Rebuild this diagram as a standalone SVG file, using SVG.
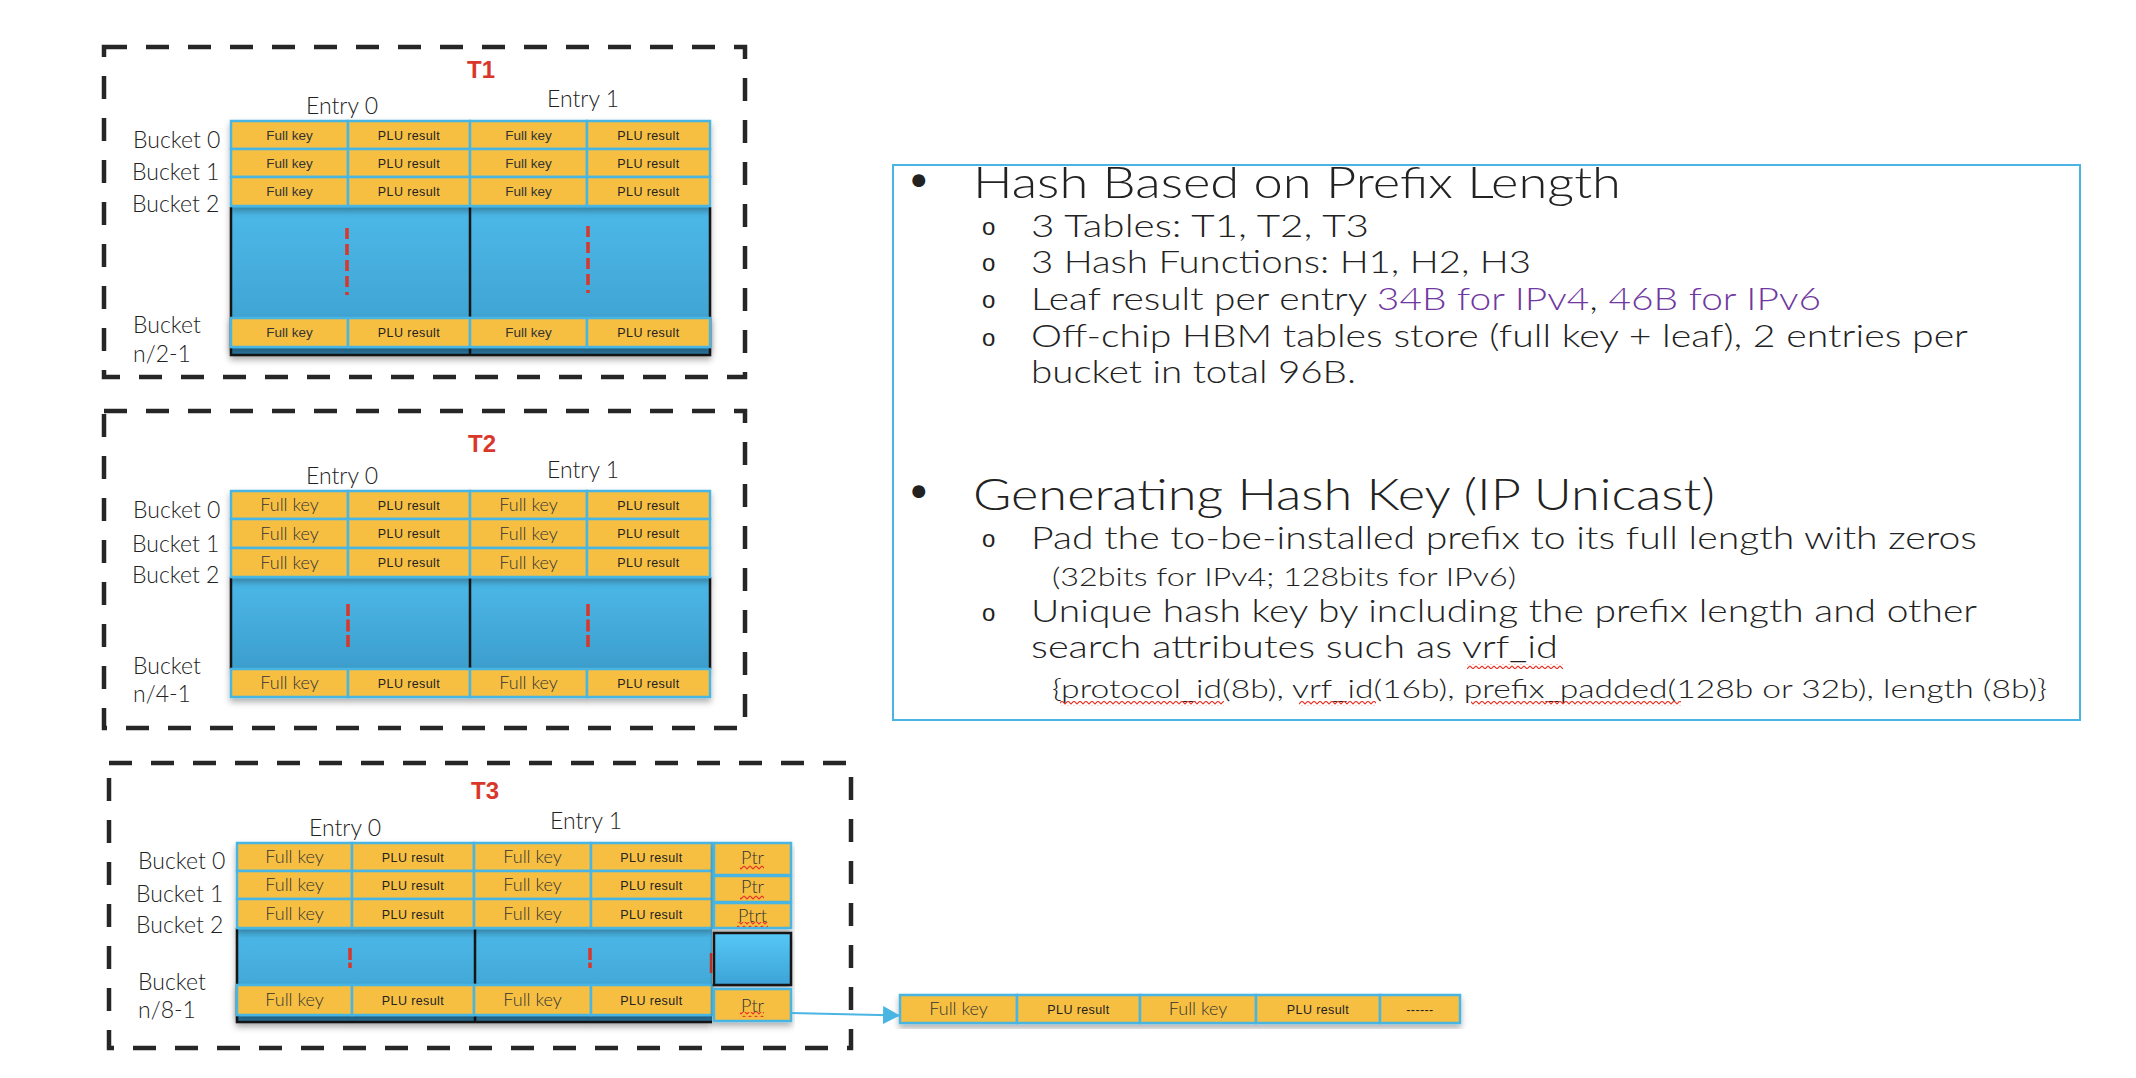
<svg xmlns="http://www.w3.org/2000/svg" width="2136" height="1078" viewBox="0 0 2136 1078">
<defs>
<style>
.frame{fill:none;stroke:#262626;stroke-width:4.5;stroke-dasharray:23 19}
.tl{font-family:"Liberation Sans",Arial,sans-serif;font-weight:bold;font-size:24px;fill:#d9372b;text-anchor:middle}
.en{font-family:Lato,"Liberation Sans",sans-serif;font-weight:300;font-size:23px;fill:#222;text-anchor:middle}
.bk{font-family:Lato,"Liberation Sans",sans-serif;font-weight:300;font-size:23px;fill:#222}
.c{fill:#f6bf43;stroke:#4ab5e3;stroke-width:2.5}
.fk{font-family:"Liberation Sans",Arial,sans-serif;font-size:13.5px;fill:#333;text-anchor:middle}
.fk2{font-family:Lato,"Liberation Sans",sans-serif;font-weight:300;font-size:18px;fill:#333;text-anchor:middle}
.pl{font-family:"Liberation Sans",Arial,sans-serif;font-size:12.5px;fill:#222;text-anchor:middle;letter-spacing:0.4px}
.blk{stroke:#151515;stroke-width:2.5;fill:none}
.rd{stroke:#d9372b;stroke-width:3.5;fill:none}
.h1{font-family:Lato,"Liberation Sans",sans-serif;font-weight:300;font-size:44px;fill:#222}
.h2{font-family:Lato,"Liberation Sans",sans-serif;font-weight:300;font-size:32px;fill:#222}
.h3{font-family:Lato,"Liberation Sans",sans-serif;font-weight:300;font-size:25px;fill:#222}
.ob{font-family:"Liberation Sans",Arial,sans-serif;font-size:24px;fill:#222}
.pu{fill:#7038a0}
.wv{fill:url(#wave)}
.cn{stroke:#4ab5e3;stroke-width:2;fill:none}
</style>
<linearGradient id="blue" x1="0" y1="0" x2="0" y2="1">
<stop offset="0" stop-color="#4cb9e9"/>
<stop offset="1" stop-color="#3c9ecd"/>
</linearGradient>
<linearGradient id="blue2" x1="0" y1="0" x2="0" y2="1">
<stop offset="0" stop-color="#55c8f7"/>
<stop offset="1" stop-color="#3da3d6"/>
</linearGradient>
<filter id="sh" x="-5%" y="-10%" width="110%" height="130%">
<feDropShadow dx="0" dy="4" stdDeviation="3" flood-color="#000" flood-opacity="0.3"/>
</filter>
<pattern id="wave" width="6" height="5" patternUnits="userSpaceOnUse">
<path d="M0 1 L3 4 L6 1" fill="none" stroke="#e8372b" stroke-width="1.2"/>
</pattern>
<marker id="arr2" viewBox="0 0 18 18" refX="17" refY="9" markerWidth="18" markerHeight="18" markerUnits="userSpaceOnUse" orient="auto">
<path d="M0 0 L17 9 L0 18 z" fill="#4ab5e3"/>
</marker>
</defs>
<rect width="2136" height="1078" fill="#fff"/>

<!-- T1 -->
<g id="table-t1">
<rect class="frame" x="104" y="47" width="641" height="330"/>
<text class="tl" x="481" y="78">T1</text>
<text class="en" x="342" y="114">Entry 0</text>
<text class="en" x="583" y="107">Entry 1</text>
<text class="bk" x="133" y="148">Bucket 0</text>
<text class="bk" x="132" y="180">Bucket 1</text>
<text class="bk" x="132" y="212">Bucket 2</text>
<text class="bk" x="133" y="333">Bucket</text>
<text class="bk" x="133" y="362">n/2-1</text>
<g filter="url(#sh)">
<rect x="231" y="207" width="479" height="147" fill="url(#blue)"/>
<rect x="231" y="346" width="479" height="8" fill="#2f7fab"/>
<path class="blk" d="M231 207V355H710V207M470 207V355"/>
</g>
<path class="rd" d="M347 228V295" stroke-dasharray="11 5"/>
<path class="rd" d="M588 226V293" stroke-dasharray="11 5"/>
<g filter="url(#sh)">
<rect class="c" x="231" y="121" width="117" height="28"/><rect class="c" x="348" y="121" width="122" height="28"/><rect class="c" x="470" y="121" width="117" height="28"/><rect class="c" x="587" y="121" width="123" height="28"/>
<rect class="c" x="231" y="149" width="117" height="28"/><rect class="c" x="348" y="149" width="122" height="28"/><rect class="c" x="470" y="149" width="117" height="28"/><rect class="c" x="587" y="149" width="123" height="28"/>
<rect class="c" x="231" y="177" width="117" height="29"/><rect class="c" x="348" y="177" width="122" height="29"/><rect class="c" x="470" y="177" width="117" height="29"/><rect class="c" x="587" y="177" width="123" height="29"/>
<rect class="c" x="231" y="318" width="117" height="29"/><rect class="c" x="348" y="318" width="122" height="29"/><rect class="c" x="470" y="318" width="117" height="29"/><rect class="c" x="587" y="318" width="123" height="29"/>
</g>
<text class="fk" x="289.5" y="139.5">Full key</text><text class="pl" x="409" y="139.5">PLU result</text><text class="fk" x="528.5" y="139.5">Full key</text><text class="pl" x="648.5" y="139.5">PLU result</text>
<text class="fk" x="289.5" y="167.5">Full key</text><text class="pl" x="409" y="167.5">PLU result</text><text class="fk" x="528.5" y="167.5">Full key</text><text class="pl" x="648.5" y="167.5">PLU result</text>
<text class="fk" x="289.5" y="196">Full key</text><text class="pl" x="409" y="196">PLU result</text><text class="fk" x="528.5" y="196">Full key</text><text class="pl" x="648.5" y="196">PLU result</text>
<text class="fk" x="289.5" y="337">Full key</text><text class="pl" x="409" y="337">PLU result</text><text class="fk" x="528.5" y="337">Full key</text><text class="pl" x="648.5" y="337">PLU result</text>
</g>

<!-- T2 -->
<g id="table-t2">
<rect class="frame" x="104" y="411" width="641" height="317"/>
<text class="tl" x="482" y="452">T2</text>
<text class="en" x="342" y="484">Entry 0</text>
<text class="en" x="583" y="478">Entry 1</text>
<text class="bk" x="133" y="518">Bucket 0</text>
<text class="bk" x="132" y="552">Bucket 1</text>
<text class="bk" x="132" y="583">Bucket 2</text>
<text class="bk" x="133" y="674">Bucket</text>
<text class="bk" x="133" y="702">n/4-1</text>
<g filter="url(#sh)">
<rect x="231" y="577" width="479" height="92" fill="url(#blue)"/>
<path class="blk" d="M231 577V669M710 577V669M470 577V669"/>
</g>
<path class="rd" d="M348 604V648" stroke-dasharray="12 3.5"/>
<path class="rd" d="M588 604V648" stroke-dasharray="12 3.5"/>
<g filter="url(#sh)">
<rect class="c" x="231" y="491" width="117" height="28"/><rect class="c" x="348" y="491" width="122" height="28"/><rect class="c" x="470" y="491" width="117" height="28"/><rect class="c" x="587" y="491" width="123" height="28"/>
<rect class="c" x="231" y="519" width="117" height="29"/><rect class="c" x="348" y="519" width="122" height="29"/><rect class="c" x="470" y="519" width="117" height="29"/><rect class="c" x="587" y="519" width="123" height="29"/>
<rect class="c" x="231" y="548" width="117" height="29"/><rect class="c" x="348" y="548" width="122" height="29"/><rect class="c" x="470" y="548" width="117" height="29"/><rect class="c" x="587" y="548" width="123" height="29"/>
<rect class="c" x="231" y="669" width="117" height="28"/><rect class="c" x="348" y="669" width="122" height="28"/><rect class="c" x="470" y="669" width="117" height="28"/><rect class="c" x="587" y="669" width="123" height="28"/>
</g>
<text class="fk2" x="289.5" y="511">Full key</text><text class="pl" x="409" y="509.5">PLU result</text><text class="fk2" x="528.5" y="511">Full key</text><text class="pl" x="648.5" y="509.5">PLU result</text>
<text class="fk2" x="289.5" y="540">Full key</text><text class="pl" x="409" y="538">PLU result</text><text class="fk2" x="528.5" y="540">Full key</text><text class="pl" x="648.5" y="538">PLU result</text>
<text class="fk2" x="289.5" y="569">Full key</text><text class="pl" x="409" y="567">PLU result</text><text class="fk2" x="528.5" y="569">Full key</text><text class="pl" x="648.5" y="567">PLU result</text>
<text class="fk2" x="289.5" y="689">Full key</text><text class="pl" x="409" y="687.5">PLU result</text><text class="fk2" x="528.5" y="689">Full key</text><text class="pl" x="648.5" y="687.5">PLU result</text>
</g>

<!-- T3 -->
<g id="table-t3">
<rect class="frame" x="109" y="763" width="742" height="285"/>
<text class="tl" x="485" y="799">T3</text>
<text class="en" x="345" y="836">Entry 0</text>
<text class="en" x="586" y="829">Entry 1</text>
<text class="bk" x="138" y="869">Bucket 0</text>
<text class="bk" x="136" y="902">Bucket 1</text>
<text class="bk" x="136" y="933">Bucket 2</text>
<text class="bk" x="138" y="990">Bucket</text>
<text class="bk" x="138" y="1018">n/8-1</text>
<g filter="url(#sh)">
<rect x="237" y="928" width="475" height="93" fill="url(#blue)"/>
<rect x="237" y="1014" width="475" height="7" fill="#2f7fab"/>
<path class="blk" d="M237 928V1022H712M475 928V1022"/>
</g>
<path class="rd" d="M350 948V968" stroke-dasharray="12 2.5 6 20"/>
<path class="rd" d="M590 948V968" stroke-dasharray="12 2.5 6 20"/>
<path d="M711 953V973" stroke="#c8372b" stroke-width="2.5"/>
<g filter="url(#sh)">
<rect class="c" x="237" y="843" width="115" height="28"/><rect class="c" x="352" y="843" width="122" height="28"/><rect class="c" x="474" y="843" width="117" height="28"/><rect class="c" x="591" y="843" width="121" height="28"/>
<rect class="c" x="237" y="871" width="115" height="28"/><rect class="c" x="352" y="871" width="122" height="28"/><rect class="c" x="474" y="871" width="117" height="28"/><rect class="c" x="591" y="871" width="121" height="28"/>
<rect class="c" x="237" y="899" width="115" height="29"/><rect class="c" x="352" y="899" width="122" height="29"/><rect class="c" x="474" y="899" width="117" height="29"/><rect class="c" x="591" y="899" width="121" height="29"/>
<rect class="c" x="237" y="985" width="115" height="30"/><rect class="c" x="352" y="985" width="122" height="30"/><rect class="c" x="474" y="985" width="117" height="30"/><rect class="c" x="591" y="985" width="121" height="30"/>
</g>
<g filter="url(#sh)">
<rect class="c" x="714" y="843" width="77" height="32"/>
<rect class="c" x="714" y="876" width="77" height="26"/>
<rect class="c" x="714" y="903" width="77" height="25"/>
<rect x="714" y="933" width="77" height="52" fill="url(#blue2)" stroke="#151515" stroke-width="2.5"/>
<rect class="c" x="714" y="989" width="77" height="32"/>
</g>
<text class="fk2" x="294.5" y="863">Full key</text><text class="pl" x="413" y="861.5">PLU result</text><text class="fk2" x="532.5" y="863">Full key</text><text class="pl" x="651.5" y="861.5">PLU result</text>
<text class="fk2" x="294.5" y="891">Full key</text><text class="pl" x="413" y="889.5">PLU result</text><text class="fk2" x="532.5" y="891">Full key</text><text class="pl" x="651.5" y="889.5">PLU result</text>
<text class="fk2" x="294.5" y="920">Full key</text><text class="pl" x="413" y="918.5">PLU result</text><text class="fk2" x="532.5" y="920">Full key</text><text class="pl" x="651.5" y="918.5">PLU result</text>
<text class="fk2" x="294.5" y="1006">Full key</text><text class="pl" x="413" y="1004.5">PLU result</text><text class="fk2" x="532.5" y="1006">Full key</text><text class="pl" x="651.5" y="1004.5">PLU result</text>
<text class="fk2" x="752.5" y="864">Ptr</text>
<text class="fk2" x="752.5" y="893">Ptr</text>
<text class="fk2" x="752.5" y="922">Ptrt</text>
<text class="fk2" x="752.5" y="1012">Ptr</text>
<rect class="wv" x="740" y="865" width="24" height="5"/>
<rect class="wv" x="740" y="895" width="24" height="5"/>
<rect class="wv" x="737" y="922" width="31" height="5"/>
<rect class="wv" x="740" y="1012" width="24" height="5"/>
</g>

<!-- overflow row -->
<g id="overflow-row" filter="url(#sh)">
<rect class="c" x="900" y="995" width="117" height="28"/>
<rect class="c" x="1017" y="995" width="123" height="28"/>
<rect class="c" x="1140" y="995" width="116" height="28"/>
<rect class="c" x="1256" y="995" width="124" height="28"/>
<rect class="c" x="1380" y="995" width="80" height="28"/>
</g>
<g id="overflow-row-text">
<text class="fk2" x="958.5" y="1015">Full key</text>
<text class="pl" x="1078.5" y="1013.5">PLU result</text>
<text class="fk2" x="1198" y="1015">Full key</text>
<text class="pl" x="1318" y="1013.5">PLU result</text>
<text class="pl" x="1420" y="1013.5">------</text>
</g>

<!-- connectors -->
<g id="connectors">
<path class="cn" d="M791 1013L900 1015.5" marker-end="url(#arr2)"/>
</g>

<!-- description box -->
<g id="description">
<rect x="893" y="165" width="1187" height="555" fill="none" stroke="#4ab5e3" stroke-width="2"/>
<text class="h1" x="906" y="194" font-size="38">•</text>
<text class="h1" x="973" y="198" textLength="648" lengthAdjust="spacingAndGlyphs">Hash Based on Prefix Length</text>
<text class="ob" x="982" y="235">o</text>
<text class="h2" x="1031" y="237" textLength="338" lengthAdjust="spacingAndGlyphs">3 Tables: T1, T2, T3</text>
<text class="ob" x="982" y="271">o</text>
<text class="h2" x="1031" y="273" textLength="500" lengthAdjust="spacingAndGlyphs">3 Hash Functions: H1, H2, H3</text>
<text class="ob" x="982" y="308">o</text>
<text class="h2" x="1031" y="310" textLength="790" lengthAdjust="spacingAndGlyphs">Leaf result per entry <tspan class="pu">34B for IPv4</tspan>, <tspan class="pu">46B for IPv6</tspan></text>
<text class="ob" x="982" y="346">o</text>
<text class="h2" x="1031" y="347" textLength="937" lengthAdjust="spacingAndGlyphs">Off-chip HBM tables store (full key + leaf), 2 entries per</text>
<text class="h2" x="1031" y="383" textLength="325" lengthAdjust="spacingAndGlyphs">bucket in total 96B.</text>
<text class="h1" x="906" y="505" font-size="38">•</text>
<text class="h1" x="973" y="510" textLength="742" lengthAdjust="spacingAndGlyphs">Generating Hash Key (IP Unicast)</text>
<text class="ob" x="982" y="547">o</text>
<text class="h2" x="1031" y="549" textLength="946" lengthAdjust="spacingAndGlyphs">Pad the to-be-installed prefix to its full length with zeros</text>
<text class="h3" x="1052" y="586" textLength="464" lengthAdjust="spacingAndGlyphs">(32bits for IPv4; 128bits for IPv6)</text>
<text class="ob" x="982" y="621">o</text>
<text class="h2" x="1031" y="622" textLength="946" lengthAdjust="spacingAndGlyphs">Unique hash key by including the prefix length and other</text>
<text class="h2" x="1031" y="658" textLength="527" lengthAdjust="spacingAndGlyphs">search attributes such as vrf_id</text>
<text class="h3" x="1052" y="698" textLength="995" lengthAdjust="spacingAndGlyphs">{protocol_id(8b), vrf_id(16b), prefix_padded(128b or 32b), length (8b)}</text>
<rect class="wv" x="1467" y="664" width="96" height="5"/>
<rect class="wv" x="1060" y="701" width="164" height="5"/>
<rect class="wv" x="1299" y="701" width="77" height="5"/>
<rect class="wv" x="1471" y="701" width="210" height="5"/>
</g>
</svg>
